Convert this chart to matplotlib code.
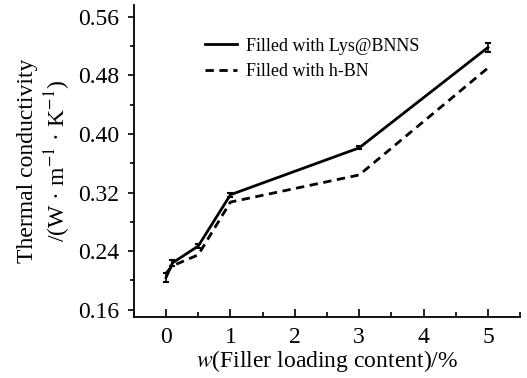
import matplotlib
matplotlib.use('Agg')
import matplotlib.pyplot as plt
from matplotlib.ticker import MultipleLocator, FormatStrFormatter

plt.rcParams['font.family'] = ['Liberation Serif', 'DejaVu Serif']
plt.rcParams['mathtext.fontset'] = 'stix'

# Filler loading content (wt%)
loading = [0, 0.1, 0.5, 1, 3, 5]
# Thermal conductivity, W/(m K)
lys_bnns = [0.204, 0.224, 0.247, 0.317, 0.381, 0.518]
lys_err = [0.006, 0.004, 0.003, 0.003, 0.002, 0.006]
h_bn = [0.210, 0.220, 0.235, 0.307, 0.344, 0.490]

fig = plt.figure(figsize=(5.27, 3.78), dpi=100)
ax = fig.add_axes([0.254, 0.161, 0.733, 0.826])

ax.plot(loading, lys_bnns, color='black', lw=2, label='Filled with Lys@BNNS')
ax.errorbar(loading, lys_bnns, yerr=lys_err, fmt='none', ecolor='black',
            capsize=2.5, elinewidth=1.2, capthick=1.5)
ax.plot(loading, h_bn, color='black', lw=2, ls=(0, (3, 2)),
        label='Filled with h-BN')

ax.set_xlim(-0.5, 5.5)
ax.set_ylim(0.15, 0.576)
ax.set_xticks(range(6))
ax.xaxis.set_minor_locator(MultipleLocator(0.5))
ax.set_yticks([0.16, 0.24, 0.32, 0.40, 0.48, 0.56])
ax.yaxis.set_minor_locator(MultipleLocator(0.04))
ax.yaxis.set_major_formatter(FormatStrFormatter('%.2f'))

ax.spines['top'].set_visible(False)
ax.spines['right'].set_visible(False)
ax.spines['left'].set_linewidth(1.3)
ax.spines['bottom'].set_linewidth(1.3)
ax.tick_params(axis='x', direction='in', length=6, width=1.2, labelsize=17, pad=7)
ax.tick_params(axis='x', which='minor', direction='in', length=3.5, width=1.2)
ax.tick_params(axis='y', direction='out', length=4.5, width=1.2, labelsize=17, pad=6)
ax.tick_params(axis='y', which='minor', direction='out', length=3, width=1.2)

ax.set_xlabel(r'$w$(Filler loading content)/%', fontsize=17, labelpad=0)
ax.set_ylabel('Thermal conductivity\n/(W · m$^{-1}$ · K$^{-1}$)', fontsize=17,
              linespacing=1.2, labelpad=4)

ax.legend(loc='upper left', bbox_to_anchor=(0.184, 0.895), frameon=False,
          fontsize=13, handlelength=1.8, handletextpad=0.5, labelspacing=0.45,
          borderpad=0, borderaxespad=0)

fig.savefig('out.png', dpi=100)
